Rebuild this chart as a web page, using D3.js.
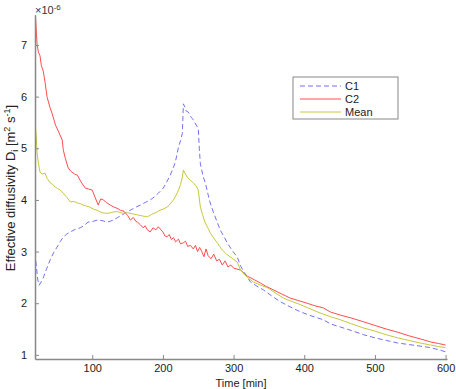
<!DOCTYPE html>
<html>
<head>
<meta charset="utf-8">
<script src="https://cdn.jsdelivr.net/npm/d3@7"></script>
<style>
body { margin: 0; background: #fff; }
svg text { font-family: "Liberation Sans", Arial, sans-serif; }
</style>
</head>
<body>
<svg id="chart" width="456" height="389"></svg>
<script>
// values: [time (min), D (x1e-6 m2/s)]
var c1 = [[19,2.97],[21,2.7],[23,2.45],[25,2.35],[28,2.42],[30.6,2.49],[35,2.65],[40.5,2.84],[45,2.97],[50.4,3.09],[55,3.2],[59,3.28],[64,3.34],[69,3.38],[76,3.43],[83,3.46],[88,3.5],[94,3.57],[100,3.58],[107,3.61],[114,3.6],[121,3.57],[126,3.59],[130,3.61],[136,3.66],[142.5,3.71],[148,3.76],[154,3.8],[160,3.85],[168,3.9],[175,3.95],[182,4.0],[188,4.06],[193.5,4.13],[200.6,4.23],[205,4.34],[210.5,4.48],[214,4.6],[217.6,4.73],[222,5.02],[225,5.15],[227.5,5.29],[229,5.86],[231,5.8],[233,5.72],[236,5.7],[240,5.6],[243,5.55],[247,5.45],[250,5.39],[251.5,5.0],[253,4.7],[257,4.45],[260,4.33],[264,4.1],[267,3.94],[271,3.78],[274,3.67],[281,3.42],[286,3.3],[291,3.17],[298,3.02],[305,2.9],[310,2.72],[317,2.55],[324,2.41],[333,2.33],[342,2.26],[354,2.14],[366,2.03],[380,1.93],[395,1.83],[411,1.75],[427,1.68],[437,1.6],[451,1.54],[467,1.47],[484,1.39],[500,1.33],[516,1.28],[532,1.23],[548,1.2],[564,1.17],[579,1.14],[590,1.1],[600,1.06]];

var c2 = [[19,7.7],[22,7.0],[24,6.85],[26,6.8],[28,6.6],[30.6,6.5],[33,6.3],[36,6.0],[40,5.8],[43,5.68],[48,5.45],[53,5.3],[57.5,5.16],[59,4.97],[62,4.8],[66,4.62],[70,4.55],[75,4.5],[79,4.48],[84,4.35],[90,4.23],[95,4.21],[100,4.19],[104,4.05],[108.5,3.9],[112,4.02],[115.6,4.0],[120,3.95],[125.5,3.9],[131,3.86],[135,3.84],[139.7,3.8],[145,3.78],[150,3.7],[154,3.61],[158,3.66],[162,3.58],[164,3.57],[168,3.52],[172,3.46],[175,3.5],[178,3.42],[182,3.38],[186,3.46],[190,3.42],[193.5,3.48],[196,3.44],[200,3.38],[203,3.3],[206,3.29],[209,3.33],[212,3.23],[215,3.27],[218,3.19],[222,3.24],[225,3.15],[229,3.17],[232,3.2],[235,3.1],[239,3.12],[243,3.05],[246,3.12],[249,3.0],[252,3.08],[255,3.0],[258,2.9],[261,3.05],[264,2.92],[268,2.86],[272,2.95],[276,2.82],[280,2.85],[284,2.74],[288,2.82],[292,2.7],[296,2.74],[300,2.68],[305,2.66],[310,2.64],[320,2.52],[330,2.45],[338,2.39],[347,2.32],[356,2.26],[368,2.18],[380,2.1],[392,2.05],[404,2.0],[415,1.95],[427,1.91],[437,1.83],[451,1.77],[465,1.72],[484,1.64],[500,1.57],[516,1.5],[532,1.44],[548,1.37],[564,1.31],[579,1.25],[590,1.22],[600,1.19]];

var mean = [[19,5.64],[20,5.35],[21,5.16],[22,4.9],[24,4.7],[26,4.54],[29,4.5],[33,4.52],[36,4.42],[40.5,4.33],[44,4.3],[47.6,4.25],[51,4.22],[54.7,4.19],[59,4.13],[64,4.05],[69,3.96],[74,3.97],[79,3.94],[83,3.93],[87,3.9],[92,3.88],[97,3.86],[102,3.82],[107,3.8],[114,3.75],[120,3.74],[125.5,3.75],[131,3.77],[137,3.77],[143,3.74],[150,3.75],[157,3.73],[164,3.71],[171,3.69],[178,3.67],[184,3.72],[192,3.77],[196,3.8],[200,3.82],[206,3.86],[210,3.92],[215,4.0],[219,4.1],[222,4.19],[225,4.3],[227.5,4.44],[229,4.58],[231,4.52],[234.5,4.44],[239,4.38],[243,4.33],[247,4.27],[250,4.19],[253,3.86],[256,3.72],[260,3.55],[264,3.45],[267,3.36],[272,3.26],[277,3.17],[284,3.03],[290,2.95],[298,2.87],[305,2.8],[310,2.64],[318,2.52],[328,2.41],[338,2.35],[348,2.3],[359,2.2],[370.5,2.1],[383,2.03],[395,1.97],[407,1.9],[419,1.83],[437,1.74],[451,1.68],[467,1.6],[484,1.52],[500,1.46],[516,1.39],[532,1.33],[548,1.28],[564,1.23],[579,1.19],[590,1.16],[600,1.14]];

var xTicks = [100, 200, 300, 400, 500, 600];
var yTicks = [1, 2, 3, 4, 5, 6, 7];
var seriesNames = ["C1", "C2", "Mean"];
var seriesColors = ["#7272f2", "#ff4d4d", "#c8c83a"];
var seriesDash = ["5,3", null, null];

var svg = d3.select("#chart");
var margin = {top: 15, right: 9, bottom: 30, left: 35};
var width = 456, height = 389;

var xScale = d3.scaleLinear()
    .domain([19, 602])
    .range([margin.left, width - margin.right]);

var yScale = d3.scaleLinear()
    .domain([0.92, 7.58])
    .range([height - margin.bottom, margin.top]);

svg.append("clipPath")
    .attr("id", "plotclip")
    .append("rect")
    .attr("x", margin.left)
    .attr("y", margin.top)
    .attr("width", width - margin.left - margin.right)
    .attr("height", height - margin.top - margin.bottom);

var line = d3.line()
    .x(function(d) { return xScale(d[0]); })
    .y(function(d) { return yScale(d[1]); });

[c1, c2, mean].forEach(function(s, i) {
    svg.append("path")
        .datum(s)
        .attr("clip-path", "url(#plotclip)")
        .attr("fill", "none")
        .attr("stroke", seriesColors[i])
        .attr("stroke-width", 1)
        .attr("stroke-dasharray", seriesDash[i])
        .attr("d", line);
});

// MATLAB style axes: ticks point inward
var xAxis = d3.axisBottom(xScale).tickValues(xTicks).tickFormat(d3.format("d"))
    .tickSizeInner(-4).tickSizeOuter(0).tickPadding(5);
var yAxis = d3.axisLeft(yScale).tickValues(yTicks).tickFormat(d3.format("d"))
    .tickSizeInner(-4).tickSizeOuter(0).tickPadding(8);

var gx = svg.append("g")
    .attr("transform", "translate(0," + (height - margin.bottom) + ")")
    .call(xAxis);
var gy = svg.append("g")
    .attr("transform", "translate(" + margin.left + ",0)")
    .call(yAxis);

[gx, gy].forEach(function(g) {
    g.select(".domain").attr("stroke", "#888").attr("stroke-width", 1.5);
    g.selectAll(".tick line").attr("stroke", "#888");
    g.selectAll(".tick text").attr("fill", "#222").style("font-size", "11px").style("font-family", "Liberation Sans, Arial, sans-serif");
});

// exponent
var expo = svg.append("text")
    .attr("x", 35)
    .attr("y", 14)
    .attr("fill", "#333")
    .style("font-size", "11px");
expo.append("tspan").text("\u00d710");
expo.append("tspan").attr("dy", -4).style("font-size", "8px").text("-6");

svg.append("text")
    .attr("x", margin.left + (width - margin.left - margin.right) / 2)
    .attr("y", 387)
    .attr("text-anchor", "middle")
    .attr("fill", "#222")
    .style("font-size", "11px")
    .text("Time [min]");

var ylabG = svg.append("g").attr("transform", "translate(15,188)");
var ylab = ylabG.append("text")
    .attr("transform", "rotate(-90)")
    .attr("text-anchor", "middle")
    .attr("fill", "#222")
    .style("font-size", "13px");
ylab.append("tspan").text("Effective diffusivity D");
ylab.append("tspan").attr("dy", 3).style("font-size", "9px").text("i");
ylab.append("tspan").attr("dy", -3).text(" [m");
ylab.append("tspan").attr("dy", -5).style("font-size", "9px").text("2");
ylab.append("tspan").attr("dy", 5).text(" s");
ylab.append("tspan").attr("dy", -5).style("font-size", "9px").text("-1");
ylab.append("tspan").attr("dy", 5).text("]");

// legend
var legend = svg.append("g").attr("transform", "translate(293,77)");
legend.append("rect")
    .attr("width", 105)
    .attr("height", 42)
    .attr("fill", "#fff")
    .attr("stroke", "#888")
    .attr("stroke-width", 1);

seriesNames.forEach(function(name, i) {
    var yy = 9 + i * 13;
    legend.append("line")
        .attr("x1", 7).attr("x2", 48)
        .attr("y1", yy).attr("y2", yy)
        .attr("stroke", seriesColors[i])
        .attr("stroke-dasharray", seriesDash[i]);
    legend.append("text")
        .attr("x", 52)
        .attr("y", yy + 4)
        .attr("fill", "#222")
        .style("font-size", "11px")
        .text(name);
});
</script>
</body>
</html>
